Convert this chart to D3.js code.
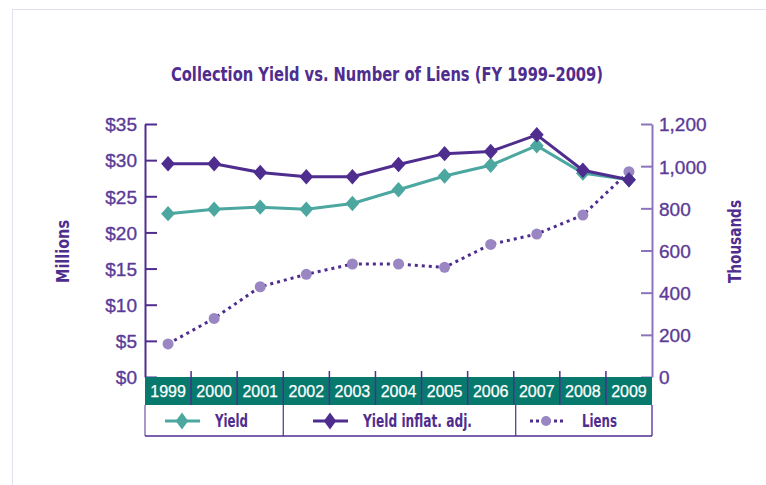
<!DOCTYPE html>
<html>
<head>
<meta charset="utf-8">
<script src="https://cdn.jsdelivr.net/npm/d3@7/dist/d3.min.js"></script>
<style>
    body { margin: 0; background: #fff; }
    .c-cond { font-family: "Liberation Sans Narrow", "DejaVu Sans Condensed", sans-serif; font-weight: bold; }
    .c-tick text { font-family: "Liberation Sans", Arial, sans-serif; font-size: 19px; fill: #5b3b98; stroke: #5b3b98; stroke-width: 0.35px; }
</style>
</head>
<body>
<div id="c-chart"></div>
<script>
    var years = ["1999", "2000", "2001", "2002", "2003", "2004", "2005", "2006", "2007", "2008", "2009"];
    // millions of dollars
    var yield_values = [22.6, 23.2, 23.5, 23.2, 24.0, 25.9, 27.8, 29.3, 32.0, 28.2, 27.3];
    var yield_adj_values = [29.5, 29.5, 28.3, 27.7, 27.7, 29.4, 30.9, 31.2, 33.5, 28.6, 27.3];
    // thousands of liens
    var liens_values = [157, 278, 428, 487, 536, 536, 520, 629, 678, 768, 974];
    var left_ticks = [0, 5, 10, 15, 20, 25, 30, 35];
    var right_ticks = [0, 200, 400, 600, 800, 1000, 1200];

    var W = 766, H = 485;
    var dark = "#4f2d8f",
        teal_line = "#4ba79f",
        band_color = "#077a6d",
        light_purple = "#9a86c3",
        axis_light = "#8c74bd";

    var svg = d3.select("#c-chart").append("svg")
        .attr("width", W)
        .attr("height", H);

    // page frame
    svg.append("rect")
        .attr("x", 12.5).attr("y", 9.5)
        .attr("width", W).attr("height", H)
        .attr("fill", "none")
        .attr("stroke", "#e2e2ee");

    // condensed text: squeeze to the measured width
    function condText(parent, label, size, width) {
        return parent.append("text")
            .attr("class", "c-cond")
            .attr("font-size", size)
            .attr("fill", dark)
            .attr("textLength", width)
            .attr("lengthAdjust", "spacingAndGlyphs")
            .text(label);
    }

    condText(svg, "Collection Yield vs. Number of Liens (FY 1999–2009)", 19, 432)
        .attr("x", 171).attr("y", 81);

    var x = d3.scaleBand().domain(years).range([145, 652]);
    var yL = d3.scaleLinear().domain([0, 35]).range([377, 124]);
    var yR = d3.scaleLinear().domain([0, 1200]).range([377, 124]);
    var cx = function(d, i) { return x(years[i]) + x.bandwidth() / 2; };

    // axes
    var gL = svg.append("g")
        .attr("class", "c-tick")
        .attr("transform", "translate(145,0)")
        .call(d3.axisLeft(yL).tickValues(left_ticks).tickSizeInner(-12).tickSizeOuter(0).tickPadding(8)
            .tickFormat(function(d) { return "$" + d; }));
    gL.select(".domain").attr("stroke", dark).attr("stroke-width", 2);
    gL.selectAll(".tick line").attr("stroke", dark).attr("stroke-width", 2);
    gL.selectAll(".tick text").attr("dy", "0.36em");

    var gR = svg.append("g")
        .attr("class", "c-tick")
        .attr("transform", "translate(652,0)")
        .call(d3.axisRight(yR).tickValues(right_ticks).tickSizeInner(-11).tickSizeOuter(0).tickPadding(7)
            .tickFormat(d3.format(",")));
    gR.select(".domain").attr("stroke", axis_light).attr("stroke-width", 2);
    gR.selectAll(".tick line").attr("stroke", axis_light).attr("stroke-width", 2);
    gR.selectAll(".tick text").attr("dy", "0.36em");

    condText(svg, "Millions", 17, 63)
        .attr("transform", "translate(69,283) rotate(-90)");
    condText(svg, "Thousands", 17, 83)
        .attr("transform", "translate(741,283) rotate(-90)");

    // year band
    svg.append("rect")
        .attr("x", 145).attr("y", 377)
        .attr("width", 507).attr("height", 28)
        .attr("fill", band_color);

    svg.append("g").selectAll("line")
        .data(years.slice(1))
        .enter().append("line")
        .attr("x1", function(d) { return x(d); })
        .attr("x2", function(d) { return x(d); })
        .attr("y1", 371).attr("y2", 405)
        .attr("stroke", dark).attr("stroke-width", 1.5);

    svg.append("g").selectAll("text")
        .data(years)
        .enter().append("text")
        .attr("x", function(d) { return x(d) + x.bandwidth() / 2; })
        .attr("y", 397)
        .attr("text-anchor", "middle")
        .attr("font-family", "Liberation Sans, Arial, sans-serif")
        .attr("font-size", 16)
        .attr("fill", "#fff")
        .attr("stroke", "#fff")
        .attr("stroke-width", 0.25)
        .text(function(d) { return d; });

    // legend row
    var legend = svg.append("g");
    legend.append("line").attr("x1", 145).attr("x2", 145).attr("y1", 405).attr("y2", 436)
        .attr("stroke", axis_light).attr("stroke-width", 1.5);
    legend.append("line").attr("x1", 652).attr("x2", 652).attr("y1", 405).attr("y2", 436)
        .attr("stroke", axis_light).attr("stroke-width", 2);
    legend.append("line").attr("x1", 145).attr("x2", 652).attr("y1", 436).attr("y2", 436)
        .attr("stroke", dark).attr("stroke-width", 1.5);
    [x("2002"), x("2007") + 2].forEach(function(px) {
        legend.append("line").attr("x1", px).attr("x2", px).attr("y1", 405).attr("y2", 436)
            .attr("stroke", dark).attr("stroke-width", 1.2);
    });

    // diamond = rotated square
    var square = d3.symbol().type(d3.symbolSquare).size(95);

    function legendItem(x0, color, marker, label, tx, tw) {
        var g = legend.append("g");
        g.append("line")
            .attr("x1", x0).attr("x2", x0 + 35).attr("y1", 421).attr("y2", 421)
            .attr("stroke", marker === "circle" ? dark : color)
            .attr("stroke-width", 3)
            .attr("stroke-dasharray", marker === "circle" ? "3,3" : null);
        if (marker === "circle") {
            g.append("circle").attr("cx", x0 + 16).attr("cy", 421).attr("r", 5).attr("fill", color);
        } else {
            g.append("path").attr("d", square)
                .attr("transform", "translate(" + (x0 + 17) + ",421) scale(0.9,1.25) rotate(45)")
                .attr("fill", color);
        }
        condText(g, label, 17, tw).attr("x", tx).attr("y", 427);
    }
    legendItem(165, teal_line, "diamond", "Yield", 215, 33);
    legendItem(313, dark, "diamond", "Yield inflat. adj.", 363, 109);
    legendItem(530, light_purple, "circle", "Liens", 582, 35);

    // liens: dotted line with circles
    var lineR = d3.line().x(cx).y(function(d) { return yR(d); });
    svg.append("path")
        .datum(liens_values)
        .attr("d", lineR)
        .attr("fill", "none")
        .attr("stroke", dark)
        .attr("stroke-width", 3)
        .attr("stroke-dasharray", "3,4");
    svg.append("g").selectAll("circle")
        .data(liens_values)
        .enter().append("circle")
        .attr("cx", cx)
        .attr("cy", function(d) { return yR(d); })
        .attr("r", 5.5)
        .attr("fill", light_purple);

    function drawSeries(values, color) {
        var line = d3.line().x(cx).y(function(d) { return yL(d); });
        svg.append("path")
            .datum(values)
            .attr("d", line)
            .attr("fill", "none")
            .attr("stroke", color)
            .attr("stroke-width", 3);
        svg.append("g").selectAll("path")
            .data(values)
            .enter().append("path")
            .attr("d", square)
            .attr("transform", function(d, i) {
                return "translate(" + cx(d, i) + "," + yL(d) + ") scale(1,1.12) rotate(45)";
            })
            .attr("fill", color);
    }
    drawSeries(yield_values, teal_line);
    drawSeries(yield_adj_values, dark);
</script>
</body>
</html>
